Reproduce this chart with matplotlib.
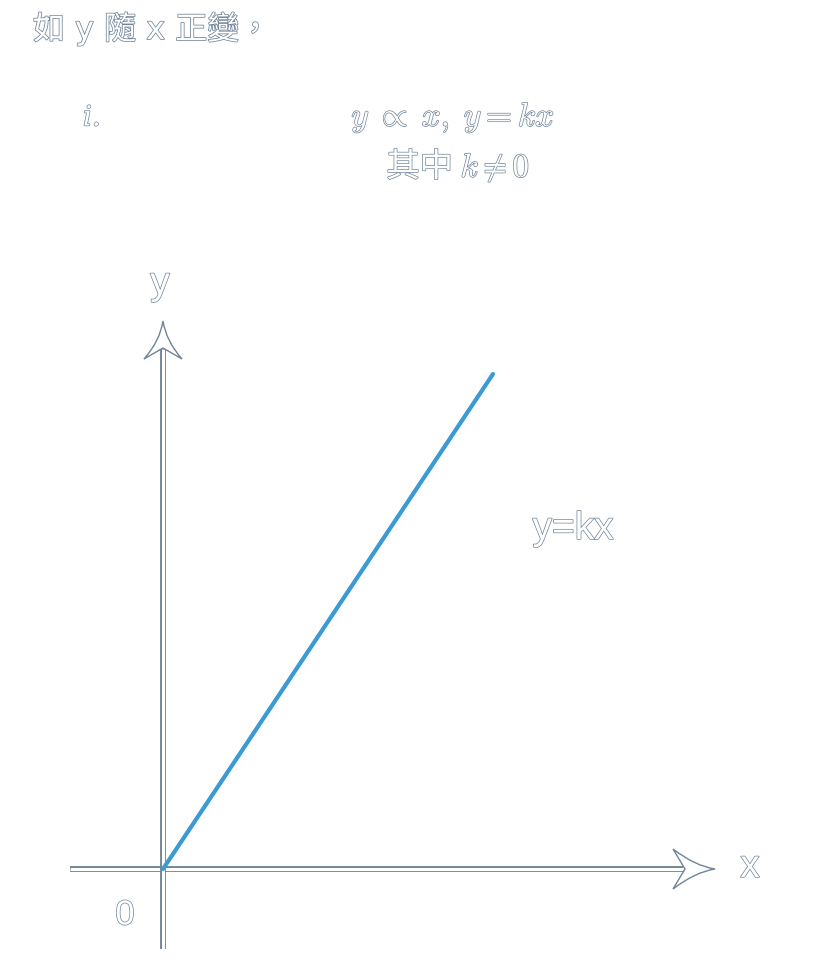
import matplotlib
matplotlib.use("Agg")
import matplotlib.pyplot as plt
import matplotlib.patheffects as pe
from matplotlib.path import Path
from matplotlib.patches import PathPatch

# ---- data ----
title_text = "如 y 隨 x 正變，"
item_label = "i."
formula_1 = r"$y\;\propto\;x,\;y = kx$"
formula_2 = r"其中 $k \neq \mathit{0}$"
line_label = "y=kx"
x_axis_label = "x"
y_axis_label = "y"
origin_label = "0"
line_x = [0, 330]
line_y = [0, 495]

plt.rcParams['mathtext.fontset'] = 'cm'

OUT = "#6f8399"
LINE = "#3a9bd2"

fig = plt.figure(figsize=(8.28, 9.78), dpi=100)
ax = fig.add_axes([0, 0, 1, 1])
ax.set_xlim(-163, 665)
ax.set_ylim(-108, 870)
ax.axis("off")

def hollow(lw):
    return [pe.withStroke(linewidth=lw, foreground=OUT)]

# axes lines (hollow double lines)
ax.plot([-93, 520], [0, 0], color="white", lw=2.2, solid_capstyle="butt",
        path_effects=[pe.Stroke(linewidth=4.2, foreground=OUT), pe.Normal()])
ax.plot([0, 0], [-80, 520], color="white", lw=2.2, solid_capstyle="butt",
        path_effects=[pe.Stroke(linewidth=4.2, foreground=OUT), pe.Normal()])

# arrowheads (concave)
def arrow_head(tip, back, half, notch, horizontal):
    tx, ty = tip
    if horizontal:
        bx = back
        verts = [(tx, ty),
                 (tx - 20, ty + 3), (bx, ty + half),
                 (notch, ty),
                 (bx, ty - half),
                 (tx - 20, ty - 3), (tx, ty),
                 (tx, ty)]
    else:
        by = back
        verts = [(tx, ty),
                 (tx - 3, ty - 20), (tx - half, by),
                 (tx, notch),
                 (tx + half, by),
                 (tx + 3, ty - 20), (tx, ty),
                 (tx, ty)]
    codes = [Path.MOVETO, Path.CURVE3, Path.CURVE3, Path.LINETO, Path.LINETO,
             Path.CURVE3, Path.CURVE3, Path.CLOSEPOLY]
    p = PathPatch(Path(verts, codes), facecolor="white", edgecolor=OUT, lw=1.0, zorder=5)
    ax.add_patch(p)

arrow_head((552, 0), 510, 20, 522, True)
arrow_head((0, 548), 510, 19, 521, False)

# the y = kx line
ax.plot(line_x, line_y, color=LINE, lw=3.0, solid_capstyle="round", zorder=6)

# texts
ax.text(-130, 840, title_text, fontsize=23, color="white",
        family=["DejaVu Sans", "Noto Sans CJK TC"], va="center", ha="left",
        path_effects=hollow(1.1))
ax.text(-80, 751, item_label, fontsize=20, color="white", family="DejaVu Serif",
        style="italic", va="center", ha="left", path_effects=hollow(1.0))
ax.text(290, 752, formula_1, fontsize=24, color="white", va="center", ha="center",
        path_effects=hollow(1.0))
ax.text(295, 703, formula_2, fontsize=24, color="white", va="center", ha="center",
        family=["Noto Sans CJK TC", "DejaVu Sans"], path_effects=hollow(1.0))
ax.text(410, 340, line_label, fontsize=28, color="white", va="center", ha="center",
        family="Liberation Sans", path_effects=hollow(1.0))
ax.text(-3, 585, y_axis_label, fontsize=28, color="white", va="center", ha="center",
        family="Liberation Sans", path_effects=hollow(1.0))
ax.text(587, 2, x_axis_label, fontsize=28, color="white", va="center", ha="center",
        family="Liberation Sans", path_effects=hollow(1.0))
ax.text(-38, -46, origin_label, fontsize=25, color="white", va="center", ha="center",
        family="Liberation Sans", path_effects=hollow(1.0))

fig.savefig("out.png", dpi=100, facecolor="white")
